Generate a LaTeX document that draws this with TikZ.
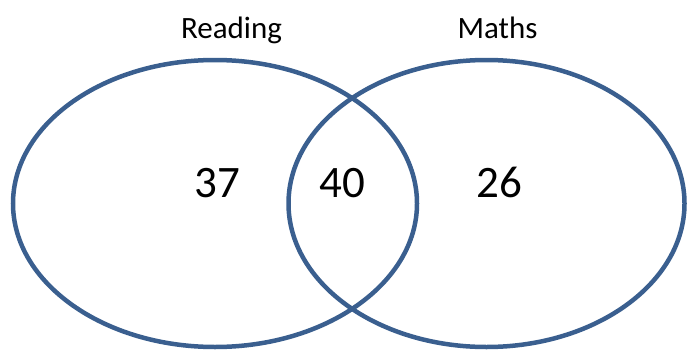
\documentclass[tikz,border=0pt]{standalone}
\usepackage{fontspec}
\setmainfont{Carlito}
\usetikzlibrary{shapes.geometric}
\definecolor{vennblue}{HTML}{3A5F8F}
\begin{document}
\begin{tikzpicture}[x=1pt,y=1pt,
  setring/.style={draw=vennblue, line width=4.5pt, ellipse, inner sep=0pt},
  title/.style={font=\fontsize{31}{37}\selectfont, anchor=base, inner sep=0pt},
  count/.style={font=\fontsize{45}{52}\selectfont, anchor=base, inner sep=0pt}]
\useasboundingbox (0,0) rectangle (687,349);
\clip (0,0) rectangle (687,349);
\node[setring, minimum width=404pt, minimum height=287pt] (reading) at (215,145.5) {};
\node[setring, minimum width=396pt, minimum height=287pt] (maths) at (486.5,145.5) {};
\node[title] (lr) at (231.5,310) {Reading};
\node[title] (lm) at (497.5,310) {Maths};
\node[count] (n37) at (217,152) {37};
\node[count] (n40) at (342,152) {40};
\node[count] (n26) at (499,152) {26};
\end{tikzpicture}
\end{document}
